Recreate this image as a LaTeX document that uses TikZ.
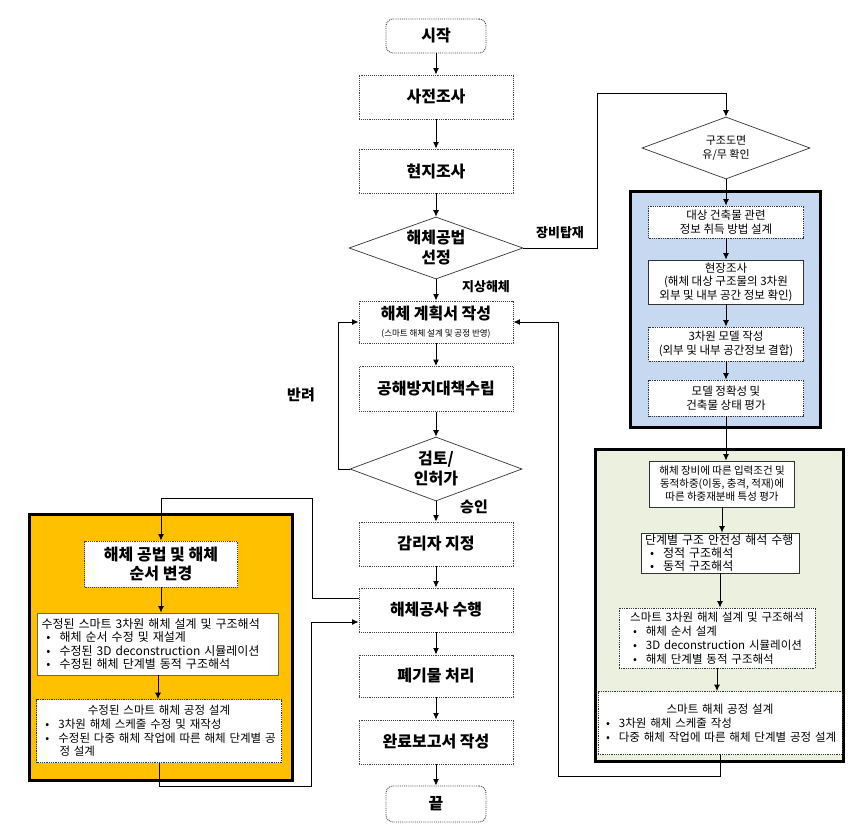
\documentclass[tikz,border=0pt]{standalone}
\usepackage{fontspec}
\setmainfont{Noto Sans CJK KR}
\usetikzlibrary{shapes.geometric,arrows.meta}
\definecolor{blueF}{RGB}{198,217,241}
\definecolor{greenF}{RGB}{235,241,222}
\definecolor{orangeF}{RGB}{255,192,0}
\newcommand\bl{\hspace*{5pt}\textbullet\hspace{9pt}}
\begin{document}
\begin{tikzpicture}[x=1pt,y=-1pt,
  cbox/.style={draw=black!75, densely dotted, line width=0.9pt, fill=white,
    minimum width=154pt, minimum height=44pt, inner sep=2pt, align=center,
    font=\fontsize{16}{19.5}\selectfont\bfseries},
  cround/.style={cbox, rounded corners=7pt, minimum width=100pt, minimum height=34pt},
  dia/.style={diamond, draw=black!80, line width=0.7pt, fill=white, inner sep=0pt,
    aspect=2.8, align=center, font=\fontsize{16}{20}\selectfont\bfseries},
  outer/.style={draw=black, line width=3pt, inner sep=0pt},
  ibox/.style={draw=black!80, densely dotted, line width=0.8pt, fill=white,
    inner sep=2pt, align=center, font=\fontsize{11.5}{13.5}\selectfont},
  lbox/.style={ibox, align=left, inner xsep=5pt},
  lab/.style={font=\fontsize{13}{15}\selectfont\bfseries},
  arr/.style={draw=black, line width=1pt, -{Latex[length=6.5pt,width=6pt]}},
]
\useasboundingbox (0,0) rectangle (854,835);

% ---- containers ----
\node[outer, fill=blueF, minimum width=190pt, minimum height=236pt] (blue) at (725,309) {};
\node[outer, fill=greenF, minimum width=248pt, minimum height=312pt] (green) at (719,605) {};
\node[outer, fill=orangeF, minimum width=263pt, minimum height=266pt] (orange) at (160.5,647) {};

% ---- center column ----
\node[cround] (start) at (436,36) {시작};
\node[cbox] (pre) at (436,97) {사전조사};
\node[cbox] (field) at (436,171) {현지조사};
\node[dia, minimum width=174pt, minimum height=62pt] (d1) at (436,248) {해체공법\\선정};
\node[cbox, minimum height=42pt] (plan) at (436,322) {해체 계획서 작성\\[-3pt]{\fontsize{8.5}{10}\selectfont\mdseries (스마트 해체 설계 및 공정 반영)}};
\node[cbox, minimum height=45pt] (poll) at (436,389) {공해방지대책수립};
\node[dia, minimum width=172pt, minimum height=64pt] (d2) at (436,469) {검토/\\인허가};
\node[cbox] (sup) at (436,544) {감리자 지정};
\node[cbox] (work) at (436,610) {해체공사 수행};
\node[cbox, minimum height=42pt] (waste) at (436,676) {폐기물 처리};
\node[cbox] (rep) at (436,742) {완료보고서 작성};
\node[cround, minimum height=36pt] (end) at (436,804) {끝};

% ---- labels ----
\node[lab] (lb1) at (560,233) {장비탑재};
\node[lab] (lb2) at (486,287) {지상해체};
\node[lab, font=\fontsize{15}{17}\selectfont\bfseries] (lb3) at (301,395) {반려};
\node[lab, font=\fontsize{15}{17}\selectfont\bfseries] (lb4) at (474,507) {승인};

% ---- right column ----
\node[dia, minimum width=168pt, minimum height=62pt, font=\fontsize{11}{13.5}\selectfont] (d3) at (726,148) {구조도면\\유/무 확인};
\node[ibox, minimum width=155pt, minimum height=32pt] (b1) at (726,222) {대상 건축물 관련\\정보 취득 방법 설계};
\node[ibox, solid, minimum width=155pt, minimum height=44pt] (b2) at (726,282) {현장조사\\(해체 대상 구조물의 3차원\\외부 및 내부 공간 정보 확인)};
\node[ibox, minimum width=155pt, minimum height=34pt] (b3) at (726,344) {3차원 모델 작성\\(외부 및 내부 공간정보 결합)};
\node[ibox, minimum width=155pt, minimum height=36pt] (b4) at (726,398) {모델 정확성 및\\건축물 상태 평가};

\node[ibox, solid, minimum width=145pt, minimum height=46pt, font=\fontsize{10.5}{13}\selectfont] (g1) at (722,484) {해체 장비에 따른 입력조건 및\\동적하중(이동, 충격, 적재)에\\따른 하중재분배 특성 평가};
\node[lbox, solid, inner xsep=4pt, text width=150pt, minimum height=40pt, inner ysep=1pt, font=\fontsize{12}{12.8}\selectfont] (g2) at (720,553) {단계별 구조 안전성 해석 수행\\\bl 정적 구조해석\\\bl 동적 구조해석};
\node[lbox, text width=186pt, minimum height=60pt, font=\fontsize{11.5}{13.8}\selectfont] (g3) at (717,638) {\makebox[186pt]{스마트 3차원 해체 설계 및 구조해석}\\\hspace*{4pt}\bl 해체 순서 설계\\\hspace*{4pt}\bl 3D deconstruction 시뮬레이션\\\hspace*{4pt}\bl 해체 단계별 동적 구조해석};
\node[lbox, inner xsep=3pt, text width=238pt, minimum height=63pt, font=\fontsize{11.5}{14}\selectfont] (g4) at (720,723) {\makebox[238pt]{스마트 해체 공정 설계}\\\bl 3차원 해체 스케줄 작성\\\bl 다중 해체 작업에 따른 해체 단계별 공정 설계};

% ---- left (orange) ----
\node[cbox, minimum width=153pt, minimum height=46pt, align=center] (o1) at (161,564) {해체 공법 및 해체\\순서 변경};
\node[lbox, solid, draw=black!60, inner xsep=4pt, text width=233pt, minimum height=62pt, font=\fontsize{12}{13.6}\selectfont] (o2) at (158,644) {수정된 스마트 3차원 해체 설계 및 구조해석\\\bl 해체 순서 수정 및 재설계\\\bl 수정된 3D deconstruction 시뮬레이션\\\bl 수정된 해체 단계별 동적 구조해석};
\node[lbox, inner xsep=4pt, text width=237pt, minimum height=63pt, font=\fontsize{11.5}{13.6}\selectfont] (o3) at (159,731) {\makebox[237pt]{수정된 스마트 해체 공정 설계}\\\bl 3차원 해체 스케줄 수정 및 재작성\\\bl 수정된 다중 해체 작업에 따른 해체 단계별 공\\\hspace*{19pt}정 설계};

% ---- connectors: center ----
\draw[arr] (start) -- (pre);
\draw[arr] (pre) -- (field);
\draw[arr] (field) -- (d1);
\draw[arr] (d1.south) -- (plan.north);
\draw[arr] (plan) -- (poll);
\draw[arr] (poll) -- (d2);
\draw[arr] (d2.south) -- (sup.north);
\draw[arr] (sup) -- (work);
\draw[arr] (work) -- (waste);
\draw[arr] (waste) -- (rep);
\draw[arr] (rep) -- (end);

% rejection loop
\draw[arr] (d2.west) -- (338,469) |- (plan.west);
% equipment branch
\draw[arr] (d1.east) -| (597,93) -| (d3.north);
% right column
\draw[arr] (d3.south) -- (b1.north);
\draw[arr] (b1) -- (b2);
\draw[arr] (b2) -- (b3);
\draw[arr] (b3) -- (b4);
\draw[arr] (b4.south) -- (b4.south |- g1.north);
\draw[arr] (g1.south) -- (g1.south |- g2.north);
\draw[arr] (g2.south) -- (g2.south |- g3.north);
\draw[arr] (g3.south) -- (g3.south |- g4.north);
\draw[arr] (g4.south) |- (558,776) |- (plan.east);
% left loop
\draw[arr] ([yshift=12pt]work.west) -| (312,498) -| (o1.north);
\draw[arr] (o1.south) -- (o1.south |- o2.north);
\draw[arr] (o2.south) -- (o2.south |- o3.north);
\draw[arr] (o3.south) |- (311,786) |- ([yshift=-12pt]work.west);
\end{tikzpicture}
\end{document}
